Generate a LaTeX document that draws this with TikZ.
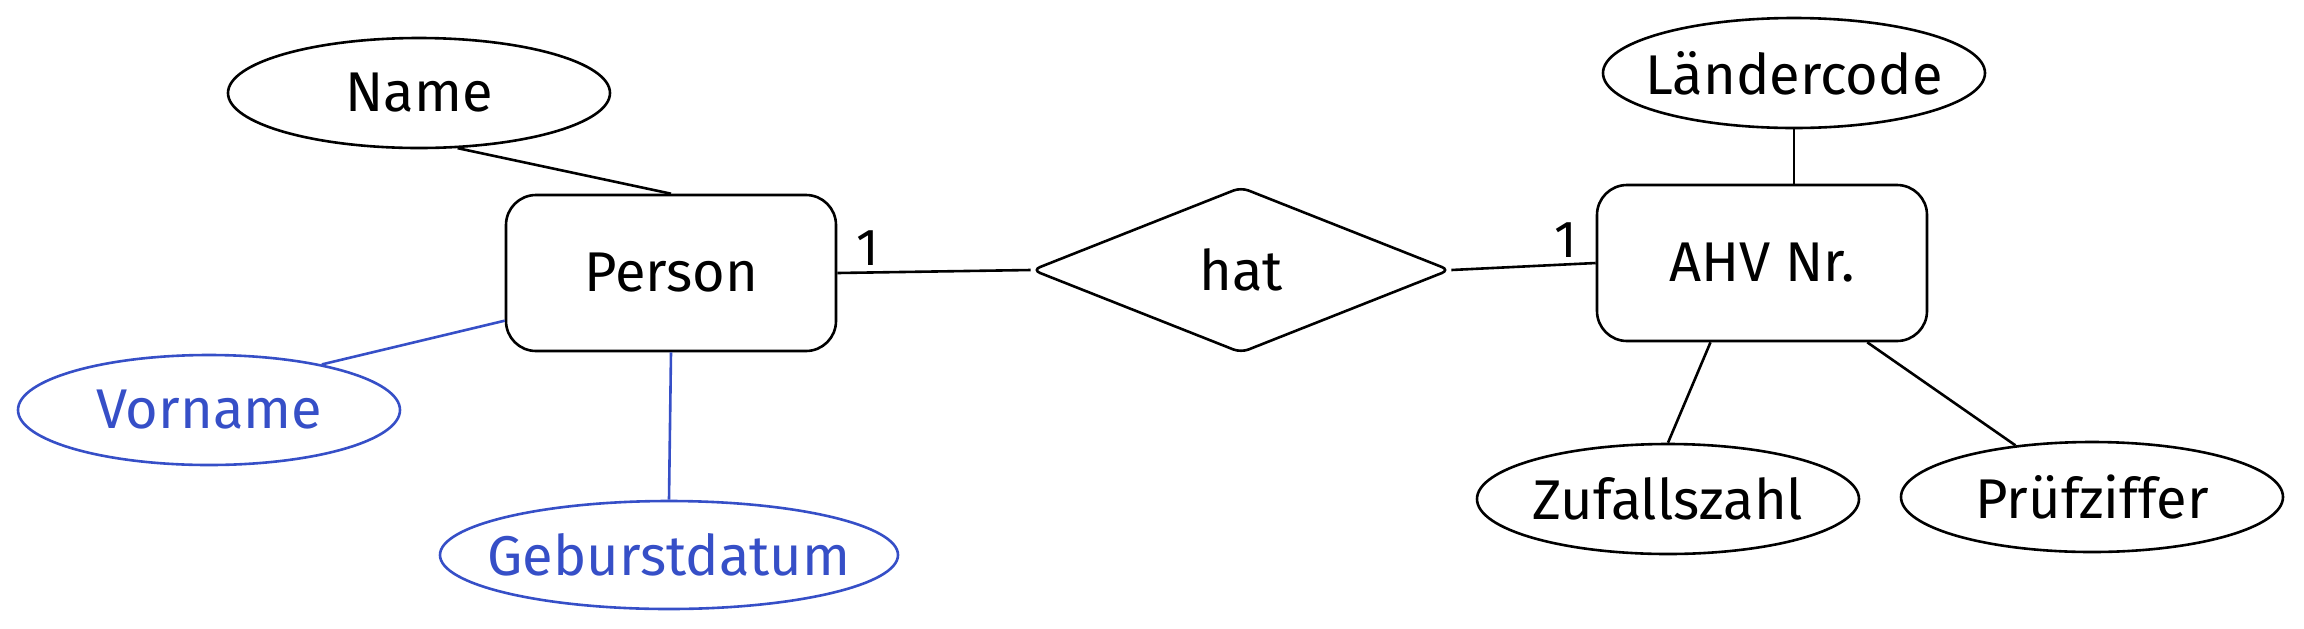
\documentclass[tikz,border=0pt]{standalone}
\usepackage{fontspec}
\setmainfont{Fira Sans}
\usetikzlibrary{calc,positioning,shapes}
\tikzset{
  entity/.style = {draw, rectangle, rounded corners=15pt, minimum width=165pt,
  minimum height=78pt, font=\fontsize{28}{32}\selectfont},
  relation/.style = {draw, diamond, aspect=2.5, minimum width=209pt, minimum height=83pt,
  inner sep=0pt, rounded corners=4pt, font=\fontsize{28}{32}\selectfont},
  attr/.style = {draw, ellipse, minimum width=191pt, minimum height=55pt, inner ysep=0pt,
  inner xsep=-14pt, font=\fontsize{28}{32}\selectfont},
  card/.style = {font=\fontsize{26}{30}\selectfont, inner sep=3pt}
}
\definecolor{my_blue}{RGB}{54, 79, 199}

\begin{document}
\begin{tikzpicture}[x=0.5pt, y=-0.5pt, line width=1.3pt,
        blue/.style={draw=my_blue, text=my_blue}]
        \useasboundingbox (0,0) rectangle (2304,628);
        % entities and relation
        \node [entity] (person) at (671,273) {Person};
        \node [relation] (hat) at (1241,270) {hat};
        \node [entity] (ahv) at (1762,263) {AHV Nr.};
        % attributes
        \node [attr] (name) at (419,93) {Name};
        \node [attr, blue] (vorname) at (209,410) {Vorname};
        \node [attr, blue, minimum width=229pt, minimum height=54pt] (geb) at (669,555) {Geburstdatum};
        \node [attr] (laender) at (1794,73) {Ländercode};
        \node [attr] (zufall) at (1668,499) {Zufallszahl};
        \node [attr] (pruef) at (2092,497) {Prüfziffer};
        % connectors
        \draw (person.east) -- node[card, pos=0.16, above] {1} (hat.west);
        \draw (hat.east) -- node[card, pos=0.79, above] {1} (ahv.west);
        \draw (name.-55) -- (person.north);
        \draw[my_blue] (vorname.22) -- (person.-164);
        \draw[my_blue] (geb.north) -- (person.south);
        \draw (laender.south) -- (laender.south |- ahv.north);
        \draw (ahv.-123) -- (zufall.north);
        \draw (ahv.-37) -- (pruef.146);
\end{tikzpicture}
\end{document}
